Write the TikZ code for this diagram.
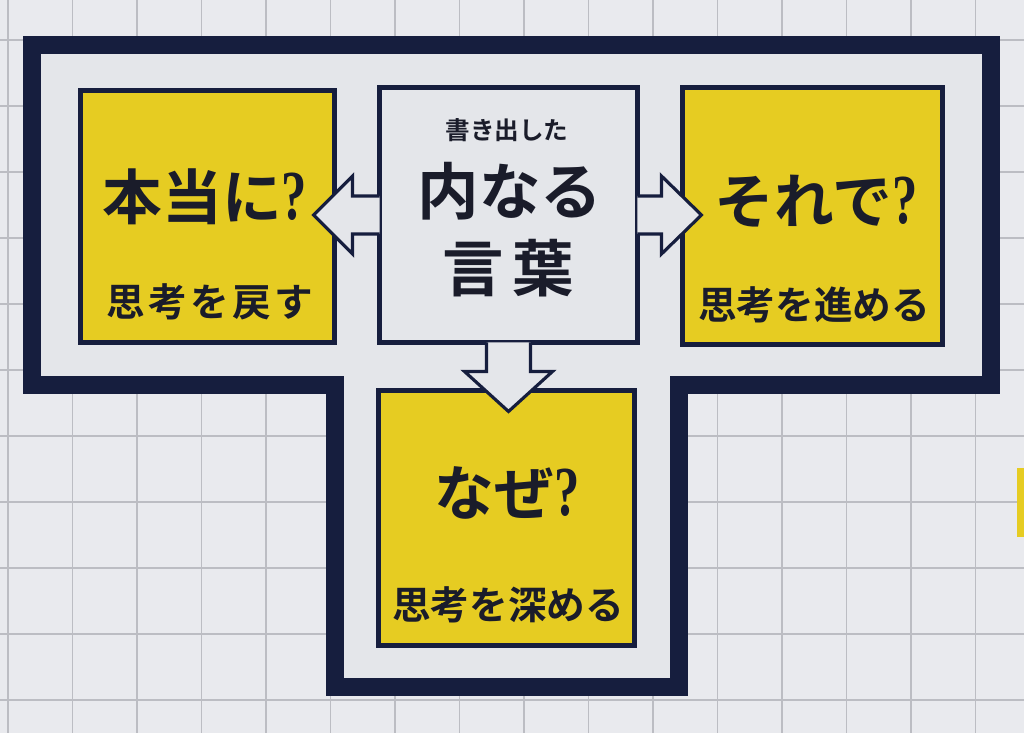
\documentclass[tikz,border=0pt]{standalone}
\usepackage{fontspec}
\usetikzlibrary{calc}
\newfontfamily\jp{Noto Sans CJK JP}[BoldFont={Noto Sans CJK JP Bold}]
\newfontfamily\qf{Liberation Serif}
\definecolor{navy}{RGB}{22,30,62}
\definecolor{yel}{RGB}{230,204,34}
\definecolor{innerc}{RGB}{228,230,234}
\definecolor{bgc}{RGB}{233,234,238}
\definecolor{gridc}{RGB}{188,189,195}
\definecolor{txt}{RGB}{26,28,42}
\newcommand{\qm}{\scalebox{0.72}[1]{\qf\bfseries\fontsize{40}{40}\selectfont ?}}
\tikzset{
  gridline/.style={draw=gridc, line width=0.9pt},
  tborder/.style={draw=navy, fill=innerc, line width=10pt, line join=miter},
  ybox/.style={draw=navy, fill=yel, line width=2.7pt, inner sep=0pt, outer sep=0pt},
  wbox/.style={draw=navy, fill=innerc, line width=2.7pt, inner sep=0pt, outer sep=0pt},
  hollow/.style={draw=navy, fill=innerc, line width=1.8pt, line join=miter},
  bigt/.style={text=txt, font=\jp\bfseries\fontsize{34}{40}\selectfont, inner sep=0pt},
  midt/.style={text=txt, font=\jp\bfseries\fontsize{35}{44}\selectfont, inner sep=0pt},
  subt/.style={text=txt, font=\jp\bfseries\fontsize{22}{26}\selectfont, inner sep=0pt},
  smallt/.style={text=txt, font=\jp\bfseries\fontsize{14}{16}\selectfont, inner sep=0pt},
}
\begin{document}
\begin{tikzpicture}[x=0.02cm, y=-0.02cm]
\useasboundingbox (0,0) rectangle (1024,733);
\fill[bgc] (0,0) rectangle (1024,733);
% grid
\foreach \i in {0,...,16} \draw[gridline] ({8+64.5*\i},0) -- ({8+64.5*\i},733);
\foreach \j in {-7,...,3} \draw[gridline] (0,{502+66*\j}) -- (1024,{502+66*\j});
% partial yellow element at right edge
\fill[yel] (1017,468) rectangle (1030,537);
% T-shaped frame
\draw[tborder] (32,45) -- (991,45) -- (991,385) -- (679,385) -- (679,687)
  -- (335,687) -- (335,385) -- (32,385) -- cycle;
% boxes
\node[ybox, minimum width=5.08cm, minimum height=5.04cm] (L) at (207.5,216.5) {};
\node[wbox, minimum width=5.16cm, minimum height=5.10cm] (C) at (508.5,215) {};
\node[ybox, minimum width=5.20cm, minimum height=5.14cm] (R) at (812.5,216) {};
\node[ybox, minimum width=5.12cm, minimum height=5.10cm] (B) at (506.5,518) {};
% hollow arrows
\draw[hollow] ($(C.west)+(0,-19)$) -- ++(-27,0) -- ++(0,-20) -- ++(-39,39)
  -- ++(39,39) -- ++(0,-20) -- ++(27,0);
\draw[hollow] ($(C.east)+(0,-19)$) -- ++(24,0) -- ++(0,-20) -- ++(40,39)
  -- ++(-40,39) -- ++(0,-20) -- ++(-24,0);
\draw[hollow] ($(C.south)+(-22,0)$) -- ++(0,29) -- ++(-22,0) -- ++(44,40)
  -- ++(44,-40) -- ++(-22,0) -- ++(0,-29);
% texts
\node[smallt] (Ca) at (507,130) {書き出した};
\node[midt] (Cb) at (510,191) {内なる};
\node[midt] (Cc) at (508,268) {言\hspace{5pt}葉};
\node[bigt] (La) at (205,197) {本当に\qm};
\node[subt] (Lb) at (210,302) {思\hspace{2pt}考\hspace{2pt}を\hspace{2pt}戻\hspace{2pt}す};
\node[bigt] (Ra) at (816,201) {それで\qm};
\node[subt] (Rb) at (814,305) {思考を進める};
\node[bigt] (Ba) at (507,493) {なぜ\qm};
\node[subt] (Bb) at (508,605) {思考を深める};
\end{tikzpicture}
\end{document}
